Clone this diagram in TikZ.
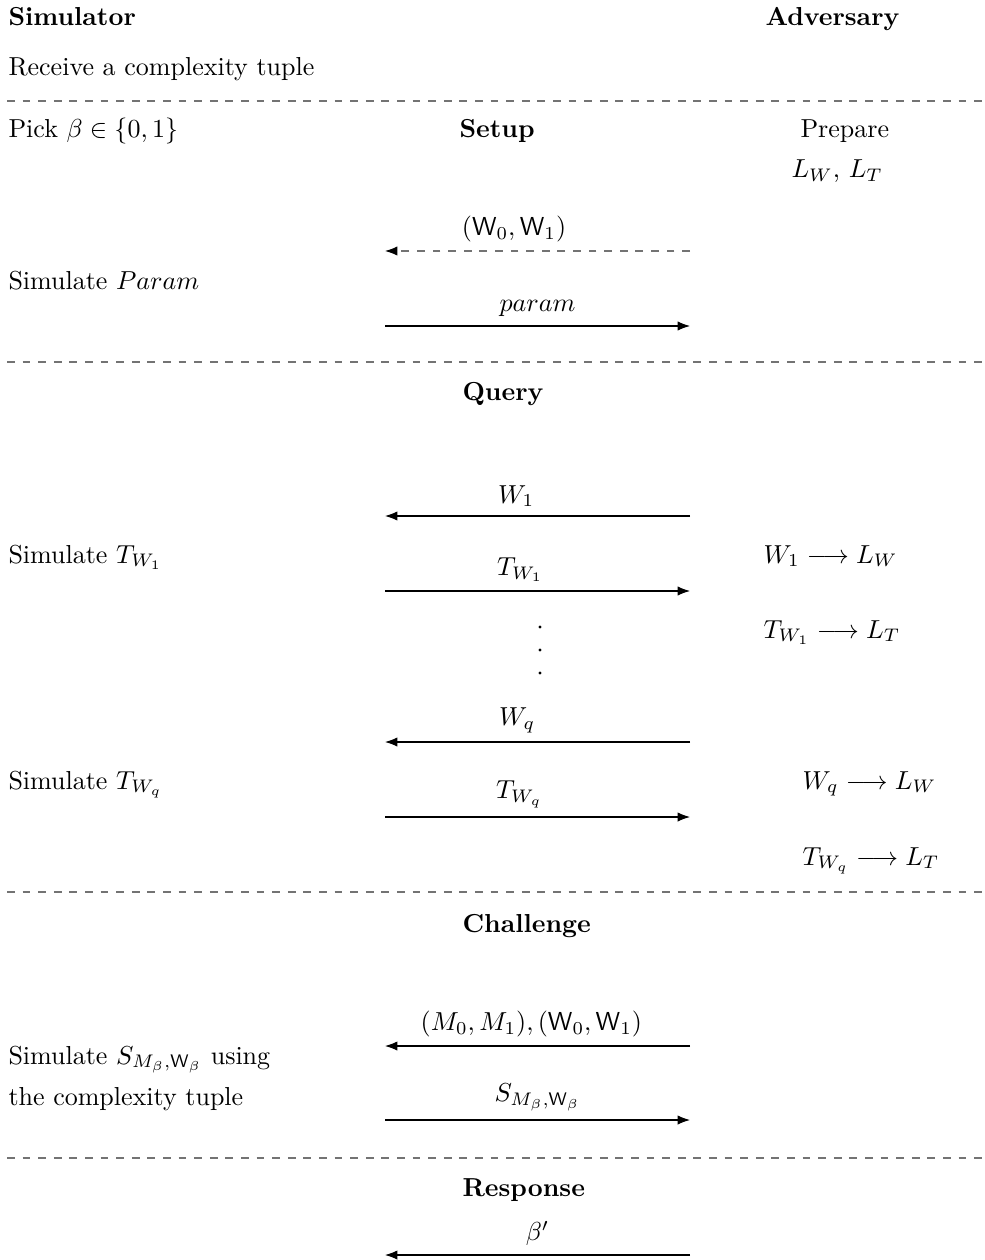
\documentclass[tikz,border=0pt]{standalone}
\usetikzlibrary{arrows.meta}
\begin{document}
\begin{tikzpicture}[x=0.3846pt,y=-0.3846pt,
  txt/.style={anchor=base west, inner sep=0pt},
  head/.style={anchor=base west, inner sep=0pt, font=\bfseries},
  sep/.style={dashed, line width=0.4pt, draw=black!55},
  msg/.style={-{Latex}, line width=0.4pt},
  lbl/.style={above, inner sep=3.3pt},
  dot/.style={circle, fill, inner sep=0pt, minimum size=1.3pt}]
\useasboundingbox (0,0) rectangle (984,1260);

% column headers
\node[head] (sim) at (8,26) {Simulator};
\node[head] (adv) at (765,26) {Adversary};
\node[txt] (recv) at (8,76) {Receive a complexity tuple};

% phase separators
\coordinate (s1l) at (7,101);  \coordinate (s1r) at (984,101);
\coordinate (s2l) at (7,362);  \coordinate (s2r) at (984,362);
\coordinate (s3l) at (7,892);  \coordinate (s3r) at (984,892);
\coordinate (s4l) at (7,1158); \coordinate (s4r) at (984,1158);
\foreach \s in {1,2,3,4} \draw[sep] (s\s l) -- (s\s r);

% Setup
\node[txt] (pick) at (8,138) {Pick $\beta\in\{0,1\}$};
\node[head] (setup) at (459,138) {Setup};
\node[txt] (prep) at (800,138) {Prepare};
\node[txt] (lists) at (791,178) {$L_W$, $L_T$};
\node[txt] (simp) at (8,290) {Simulate $Param$};

\coordinate (a1l) at (385,251); \coordinate (a1r) at (690,251);
\coordinate (a2l) at (385,326); \coordinate (a2r) at (690,326);
\draw[-{Latex[black]}, line width=0.4pt, dashed, draw=black!55] (a1r) -- node[lbl, pos=0.577, text=black] (m1) {$(\mathsf{W}_0,\mathsf{W}_1)$} (a1l);
\draw[msg] (a2l) -- node[lbl, pos=0.5] (m2) {$param$} (a2r);

% Query
\node[head] (query) at (462,401) {Query};

\coordinate (a3l) at (385,516); \coordinate (a3r) at (690,516);
\coordinate (a4l) at (385,591); \coordinate (a4r) at (690,591);
\draw[msg] (a3r) -- node[lbl, pos=0.57] (m3) {$W_1$} (a3l);
\draw[msg] (a4l) -- node[lbl, pos=0.443] (m4) {$T_{W_1}$} (a4r);
\node[txt] (simt1) at (8,563) {Simulate $T_{W_1}$};
\node[txt] (r1) at (763,563) {$W_1\longrightarrow L_W$};
\node[txt] (r2) at (763,638) {$T_{W_1}\longrightarrow L_T$};

\node[dot] (d1) at (540,627) {};
\node[dot] (d2) at (540,650) {};
\node[dot] (d3) at (540,673) {};

\coordinate (a5l) at (385,742); \coordinate (a5r) at (690,742);
\coordinate (a6l) at (385,817); \coordinate (a6r) at (690,817);
\draw[msg] (a5r) -- node[lbl, pos=0.567] (m5) {$W_q$} (a5l);
\draw[msg] (a6l) -- node[lbl, pos=0.44] (m6) {$T_{W_q}$} (a6r);
\node[txt] (simtq) at (8,789) {Simulate $T_{W_q}$};
\node[txt] (r3) at (802,789) {$W_q\longrightarrow L_W$};
\node[txt] (r4) at (802,865) {$T_{W_q}\longrightarrow L_T$};

% Challenge
\node[head] (chal) at (462,932) {Challenge};
\coordinate (a7l) at (385,1046); \coordinate (a7r) at (690,1046);
\coordinate (a8l) at (385,1120); \coordinate (a8r) at (690,1120);
\draw[msg] (a7r) -- node[lbl, pos=0.52] (m7) {$(M_0,M_1),(\mathsf{W}_0,\mathsf{W}_1)$} (a7l);
\draw[msg] (a8l) -- node[lbl, pos=0.5] (m8) {$S_{M_\beta,\mathsf{W}_\beta}$} (a8r);
\node[txt] (sims) at (8,1064) {Simulate $S_{M_\beta,\mathsf{W}_\beta}$ using};
\node[txt] (simc) at (8,1105) {the complexity tuple};

% Response
\node[head] (resp) at (462,1196) {Response};
\coordinate (a9l) at (385,1255); \coordinate (a9r) at (690,1255);
\draw[msg] (a9r) -- node[lbl, pos=0.5] (m9) {$\beta'$} (a9l);
\end{tikzpicture}
\end{document}
